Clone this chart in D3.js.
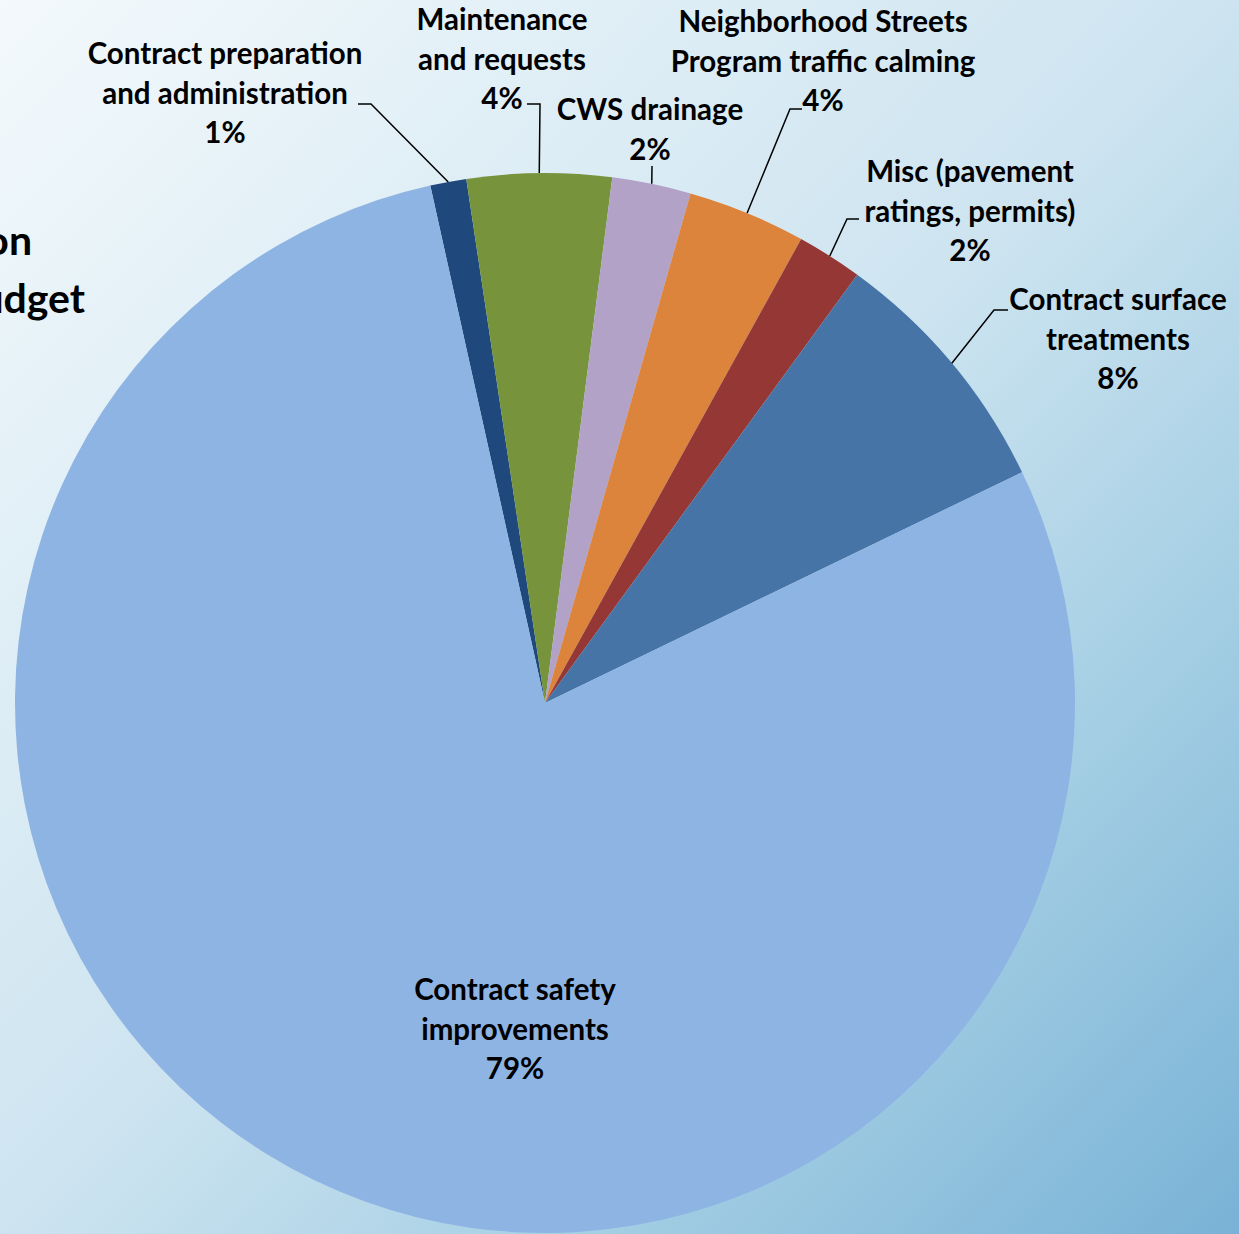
<!DOCTYPE html>
<html>
<head>
<meta charset="utf-8">
<script src="https://cdn.jsdelivr.net/npm/d3@7"></script>
<style>
  html, body { margin: 0; padding: 0; overflow: hidden; }
  svg { display: block; }
</style>
</head>
<body>
<script>
// ---- data ----
const categories = [
  "Contract preparation and administration",
  "Maintenance and requests",
  "CWS drainage",
  "Neighborhood Streets Program traffic calming",
  "Misc (pavement ratings, permits)",
  "Contract surface treatments",
  "Contract safety improvements"
];
const values = [1.1, 4.4, 2.4, 3.6, 2.0, 7.8, 78.7];
const percentLabels = ["1%", "4%", "2%", "4%", "2%", "8%", "79%"];
const labelLines = [
  ["Contract preparation", "and administration"],
  ["Maintenance", "and requests"],
  ["CWS drainage"],
  ["Neighborhood Streets", "Program traffic calming"],
  ["Misc (pavement", "ratings, permits)"],
  ["Contract surface", "treatments"],
  ["Contract safety", "improvements"]
];
const titleLines = ["Transportation", "Improvement Budget"];

// ---- layout (positions / styles) ----
const W = 1239, H = 1234;
const cx = 545, cy = 703, R = 530;
const startDeg = -12.5;
const colors = ["#1f497d", "#77933c", "#b3a2c7", "#dd843c", "#953735", "#4674a6", "#8eb4e3"];
// label block: centre x, baseline of first line
const labelPos = [
  {x: 225, y: 64},
  {x: 502, y: 30},
  {x: 650, y: 120},
  {x: 823, y: 32},
  {x: 970, y: 182},
  {x: 1118, y: 310},
  {x: 515, y: 1000}
];
// leader: [tickStart, tickEnd] (null = no leader)
const leaderTicks = [
  [[358, 104], [371, 104]],
  [[527, 104], [540, 104]],
  [[652, 166], [652, 166]],
  [[802, 109], [790, 109]],
  [[859, 219], [847, 219]],
  [[1008, 310], [994, 310]],
  null
];
const lineH = 39.5;
const fontSize = 29.5;

const svg = d3.select("body").append("svg").attr("width", W).attr("height", H);

const defs = svg.append("defs");
const grad = defs.append("linearGradient").attr("id", "bg")
  .attr("gradientUnits", "userSpaceOnUse")
  .attr("x1", 0).attr("y1", 0).attr("x2", W).attr("y2", H);
[[0, "#f3f9fc"], [0.5, "#cde4f0"], [0.75, "#a2cde3"], [1, "#79b2d6"]].forEach(s =>
  grad.append("stop").attr("offset", s[0]).attr("stop-color", s[1]));
svg.append("rect").attr("width", W).attr("height", H).attr("fill", "url(#bg)");

// title (mostly off-canvas, as in the reference)
const title = svg.append("text")
  .attr("font-family", "Lato, 'Open Sans', sans-serif")
  .attr("font-weight", 700).attr("font-size", 41).attr("fill", "#000")
  .attr("text-anchor", "end");
title.append("tspan").attr("x", 32).attr("y", 255).text(titleLines[0]);
title.append("tspan").attr("x", 85).attr("y", 313).text(titleLines[1]);

const pie = d3.pie().sort(null).value(d => d)
  .startAngle(startDeg * Math.PI / 180)
  .endAngle(startDeg * Math.PI / 180 + 2 * Math.PI);
const arcs = pie(values);
const arc = d3.arc().innerRadius(0).outerRadius(R);

const g = svg.append("g").attr("transform", `translate(${cx},${cy})`);
g.selectAll("path.slice").data(arcs).enter().append("path")
  .attr("class", "slice")
  .attr("d", arc)
  .attr("fill", (d, i) => colors[i]);

// leaders
arcs.forEach((d, i) => {
  const t = leaderTicks[i];
  if (!t) return;
  const a = (d.startAngle + d.endAngle) / 2;
  const ex = cx + R * Math.sin(a), ey = cy - R * Math.cos(a);
  const pts = [t[0], t[1], [ex, ey]];
  svg.append("path")
    .attr("d", d3.line()(pts))
    .attr("fill", "none").attr("stroke", "#000").attr("stroke-width", 1.5);
});

// labels
arcs.forEach((d, i) => {
  const p = labelPos[i];
  const lines = labelLines[i].concat([percentLabels[i]]);
  const t = svg.append("text")
    .attr("font-family", "Lato, 'Open Sans', sans-serif")
    .attr("font-weight", 700).attr("font-size", fontSize).attr("fill", "#000")
    .attr("text-anchor", "middle");
  lines.forEach((ln, k) => {
    t.append("tspan").attr("x", p.x).attr("y", p.y + k * lineH).text(ln);
  });
});
</script>
</body>
</html>
